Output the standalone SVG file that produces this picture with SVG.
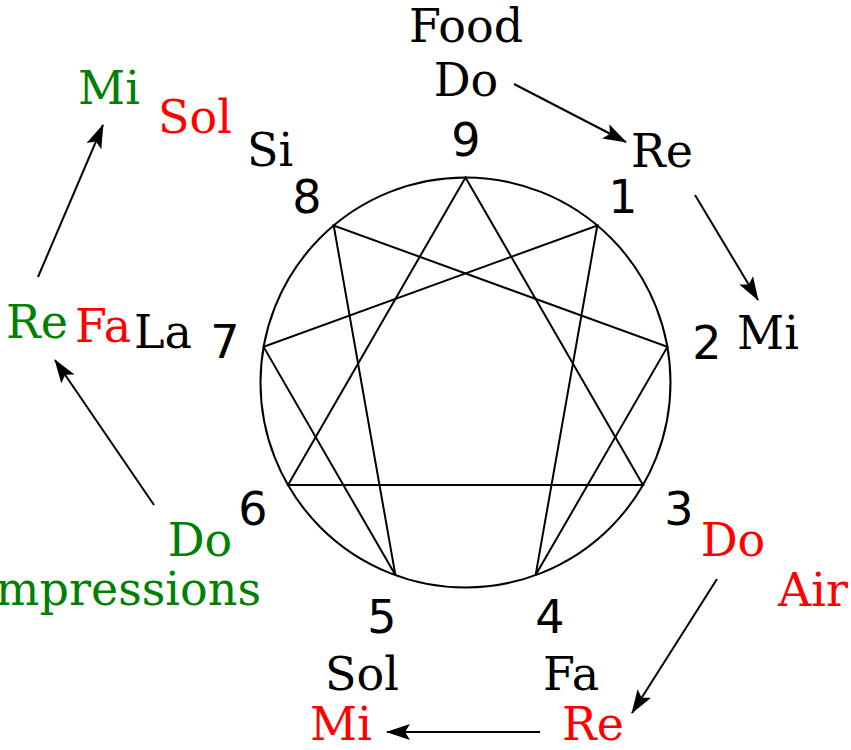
<svg xmlns="http://www.w3.org/2000/svg" width="851" height="750" viewBox="0 0 851 750">
<style>
text{font-family:"DejaVu Serif",serif;font-size:46px;text-anchor:middle}
.n{font-family:"DejaVu Sans",sans-serif}
.g{fill:#008000}
.r{fill:#ff0000}
.k{fill:#000}
.fig{fill:none;stroke:#000;stroke-width:2}
.arr{fill:none;stroke:#000;stroke-width:2;marker-end:url(#ah)}
</style>
<defs>
<marker id="ah" markerUnits="userSpaceOnUse" markerWidth="24" markerHeight="18" viewBox="0 0 24 18" refX="23" refY="9" orient="auto">
<path d="M0,1 L24,9 L0,17 L5,9 z" fill="#000"/>
</marker>
</defs>
<g id="enneagram">
<circle class="fig" cx="465.5" cy="382.5" r="205"/>
<polygon class="fig" points="465.5,177.5 643,485 288,485"/>
<polygon class="fig" points="597.3,225.5 535.6,575.1 667.4,346.9 333.7,225.5 395.4,575.1 263.6,346.9"/>
</g>
<g id="numbers">
<text class="n" x="466" y="156">9</text>
<text class="n" x="623" y="213">1</text>
<text class="n" x="707" y="359">2</text>
<text class="n" x="679" y="525">3</text>
<text class="n" x="550" y="633">4</text>
<text class="n" x="382" y="633">5</text>
<text class="n" x="253" y="525">6</text>
<text class="n" x="225" y="358">7</text>
<text class="n" x="307" y="213">8</text>
</g>
<g id="food">
<text class="k" x="466" y="42">Food</text>
<text class="k" x="466" y="96">Do</text>
<text class="k" x="662" y="167">Re</text>
<text class="k" x="768" y="349">Mi</text>
<text class="k" x="571" y="690">Fa</text>
<text class="k" x="362" y="690">Sol</text>
<text class="k" x="163" y="348">La</text>
<text class="k" x="270" y="166">Si</text>
</g>
<g id="air">
<text class="r" x="733" y="556">Do</text>
<text class="r" x="813" y="606">Air</text>
<text class="r" x="593" y="740">Re</text>
<text class="r" x="341" y="740">Mi</text>
<text class="r" x="103" y="342">Fa</text>
<text class="r" x="195" y="133">Sol</text>
</g>
<g id="impressions">
<text class="g" x="200" y="556">Do</text>
<text class="g" x="261" y="605" style="text-anchor:end">Impressions</text>
<text class="g" x="37" y="338">Re</text>
<text class="g" x="109" y="104">Mi</text>
</g>
<g id="connectors">
<line class="arr" x1="514" y1="84" x2="626" y2="142"/>
<line class="arr" x1="695" y1="195" x2="758" y2="300"/>
<line class="arr" x1="717" y1="579" x2="632" y2="713"/>
<line class="arr" x1="540" y1="732" x2="387" y2="732"/>
<line class="arr" x1="154" y1="505" x2="55" y2="360"/>
<line class="arr" x1="38" y1="277" x2="103" y2="125"/>
</g>
</svg>
